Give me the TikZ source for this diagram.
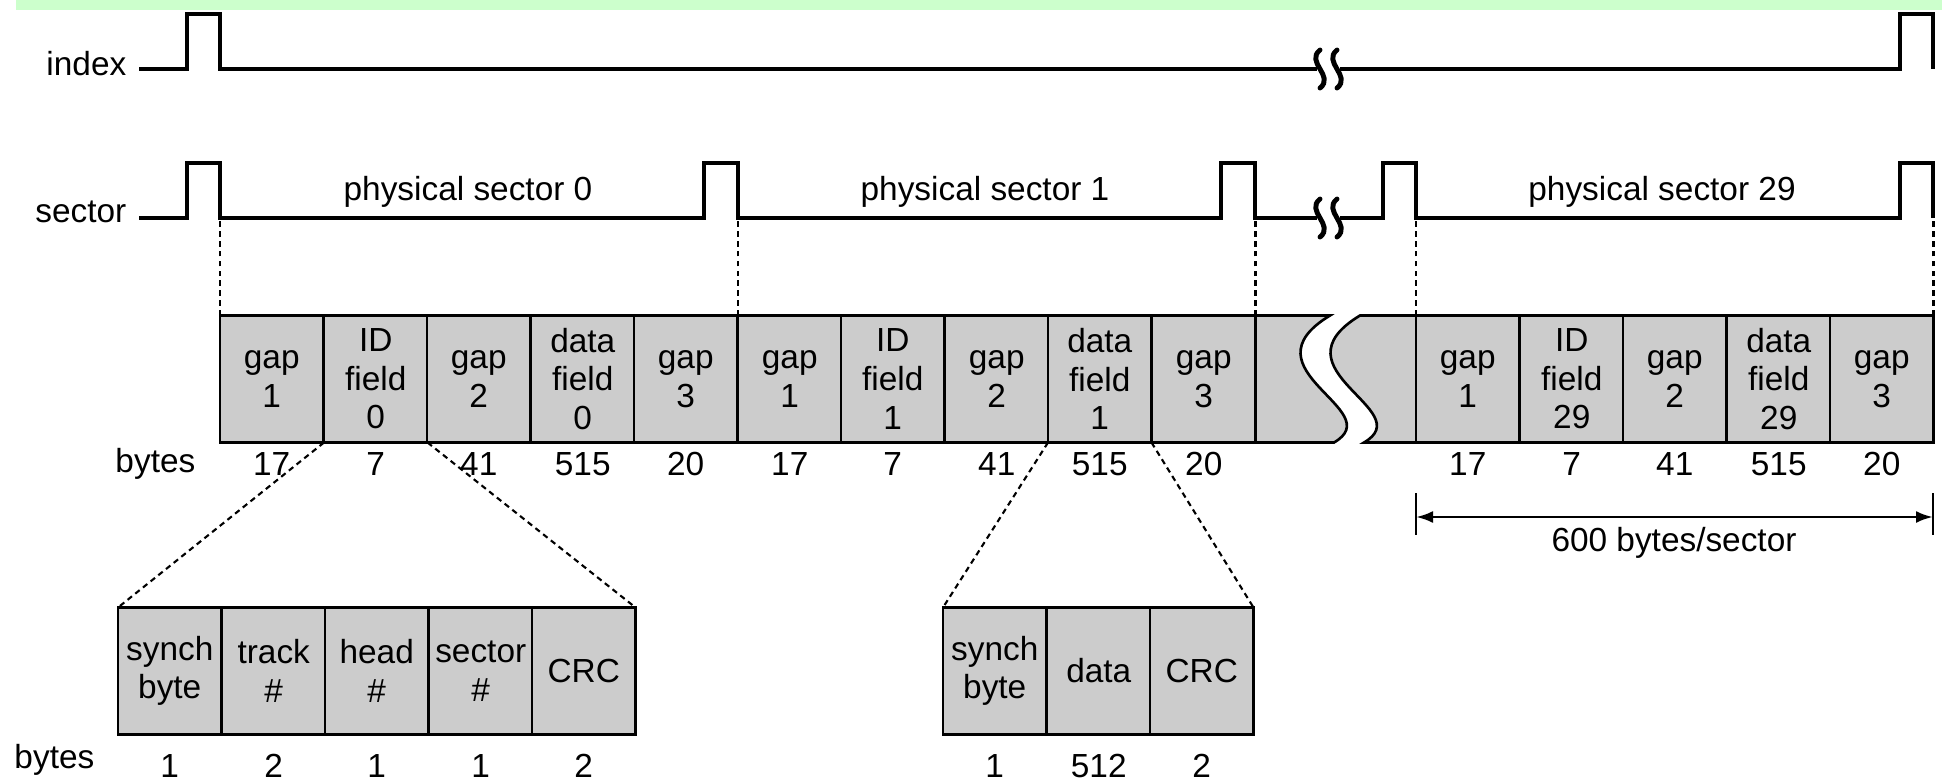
\documentclass[tikz,border=0pt]{standalone}
\usepackage{fontspec}
\setmainfont{Liberation Sans}
\usetikzlibrary{arrows.meta}
\definecolor{bandgreen}{HTML}{CCFFCC}
\definecolor{cellgray}{HTML}{CCCCCC}
\tikzset{
	txt/.style={black, inner sep=0pt, minimum size=0pt, font=\fontsize{9.5}{11}\selectfont},
	signal/.style={draw=black, line width=1.4pt, solid},
	breakmark/.style={draw=black, line width=1.4pt, line cap=round},
	seg/.style={txt, draw=black, line width=0.75pt, fill=cellgray, minimum width=1.035cm, minimum height=1.27cm, outer sep=0pt, align=center, anchor=west},
	guide/.style={draw=black, line width=0.6pt, dash pattern=on 1.6pt off 1.2pt},
	upcount/.style={label={[txt, label distance=0.09cm]below:#1}},
	lowcount/.style={label={[txt, label distance=0.19cm]below:#1}},
	spanarrow/.style={draw=black, line width=0.8pt, {Latex[length=0.17cm, width=0.12cm]}-{Latex[length=0.17cm, width=0.12cm]}}
}
\begin{document}
\begin{tikzpicture}
		\useasboundingbox (0,0) rectangle (19.42,7.81);
		\fill[bandgreen] (0.16,7.71) rectangle (19.42,7.81);
		\node[txt, anchor=base east] (indexname) at (1.27,7.06) {index};
		\node[txt, anchor=base east] (sectorname) at (1.27,5.59) {sector};
		\draw[signal] (1.39,7.12) -- (1.87,7.12) -- (1.87,7.67) -- (2.20,7.67) -- (2.20,7.12) -- (13.17,7.12);
		\draw[signal] (13.40,7.12) -- (19.00,7.12) -- (19.00,7.67) -- (19.33,7.67) -- (19.33,7.12);
		\draw[signal] (1.39,5.63) -- (1.87,5.63) -- (1.87,6.18) -- (2.20,6.18) -- (2.20,5.63) -- (7.04,5.63) -- (7.04,6.18) -- (7.38,6.18) -- (7.38,5.63) -- (12.21,5.63) -- (12.21,6.18) -- (12.55,6.18) -- (12.55,5.63) -- (13.17,5.63);
		\draw[signal] (13.40,5.63) -- (13.83,5.63) -- (13.83,6.18) -- (14.16,6.18) -- (14.16,5.63) -- (19.00,5.63) -- (19.00,6.18) -- (19.33,6.18) -- (19.33,5.63);
		\draw[breakmark] (13.20,7.31) .. controls (13.05,7.19) and (13.35,7.05) .. (13.20,6.93);
		\draw[breakmark] (13.37,7.31) .. controls (13.22,7.19) and (13.52,7.05) .. (13.37,6.93);
		\draw[breakmark] (13.20,5.82) .. controls (13.05,5.70) and (13.35,5.56) .. (13.20,5.44);
		\draw[breakmark] (13.37,5.82) .. controls (13.22,5.70) and (13.52,5.56) .. (13.37,5.44);
		\node[txt, anchor=base] (ps0) at (4.68,5.81) {physical sector 0};
		\node[txt, anchor=base] (ps1) at (9.85,5.81) {physical sector 1};
		\node[txt, anchor=base] (ps29) at (16.62,5.81) {physical sector 29};
		\filldraw[draw=black, line width=0.75pt, fill=cellgray] (12.55,4.655) -- (13.30,4.655) .. controls (12.40,4.11) and (13.90,3.71) .. (13.34,3.385) -- (12.55,3.385);
		\filldraw[draw=black, line width=0.75pt, fill=cellgray] (14.16,4.655) -- (13.60,4.655) .. controls (12.70,4.11) and (14.20,3.71) .. (13.64,3.385) -- (14.16,3.385);
		\node[seg, upcount=17] (s0gap1) at (2.20,4.02) {gap\\1};
		\node[seg, upcount=7] (s0id) at (3.24,4.02) {ID\\field\\0};
		\node[seg, upcount=41] (s0gap2) at (4.27,4.02) {gap\\2};
		\node[seg, upcount=515] (s0data) at (5.31,4.02) {data\\field\\0};
		\node[seg, upcount=20] (s0gap3) at (6.34,4.02) {gap\\3};
		\node[seg, upcount=17] (s1gap1) at (7.38,4.02) {gap\\1};
		\node[seg, upcount=7] (s1id) at (8.41,4.02) {ID\\field\\1};
		\node[seg, upcount=41] (s1gap2) at (9.45,4.02) {gap\\2};
		\node[seg, upcount=515] (s1data) at (10.48,4.02) {data\\field\\1};
		\node[seg, upcount=20] (s1gap3) at (11.52,4.02) {gap\\3};
		\node[seg, upcount=17] (s29gap1) at (14.16,4.02) {gap\\1};
		\node[seg, upcount=7] (s29id) at (15.20,4.02) {ID\\field\\29};
		\node[seg, upcount=41] (s29gap2) at (16.23,4.02) {gap\\2};
		\node[seg, upcount=515] (s29data) at (17.27,4.02) {data\\field\\29};
		\node[seg, upcount=20] (s29gap3) at (18.30,4.02) {gap\\3};
		\node[txt, anchor=base east] (bytesup) at (1.96,3.09) {bytes};
		\draw[guide] (s0gap1.north west) -- ++(0,0.96);
		\draw[guide] (s1gap1.north west) -- ++(0,0.96);
		\draw[guide] (s1gap3.north east) -- ++(0,0.96);
		\draw[guide] (s29gap1.north west) -- ++(0,0.96);
		\draw[guide] (s29gap3.north east) -- ++(0,0.96);
		\node[seg, lowcount=1] (idsynch) at (1.18,1.10) {synch\\byte};
		\node[seg, lowcount=2] (idtrack) at (2.22,1.10) {track\\\#};
		\node[seg, lowcount=1] (idhead) at (3.25,1.10) {head\\\#};
		\node[seg, lowcount=1] (idsector) at (4.29,1.10) {sector\\\#};
		\node[seg, lowcount=2] (idcrc) at (5.32,1.10) {CRC};
		\node[seg, lowcount=1] (dsynch) at (9.43,1.10) {synch\\byte};
		\node[seg, lowcount=512] (ddata) at (10.47,1.10) {data};
		\node[seg, lowcount=2] (dcrc) at (11.50,1.10) {CRC};
		\node[txt, anchor=base east] (byteslow) at (0.95,0.13) {bytes};
		\draw[guide] (s0id.south west) -- (idsynch.north west);
		\draw[guide] (s0id.south east) -- (idcrc.north east);
		\draw[guide] (s1data.south west) -- (dsynch.north west);
		\draw[guide] (s1data.south east) -- (dcrc.north east);
		\draw[draw=black, line width=0.6pt] (14.16,2.88) -- (14.16,2.46);
		\draw[draw=black, line width=0.6pt] (19.33,2.88) -- (19.33,2.46);
		\coordinate (spanL) at (14.16,2.64);
		\coordinate (spanR) at (19.33,2.64);
		\draw[spanarrow] (spanL) -- (spanR);
		\node[txt, anchor=base] (spanlabel) at (16.74,2.30) {600 bytes/sector};
	\end{tikzpicture}
\end{document}
